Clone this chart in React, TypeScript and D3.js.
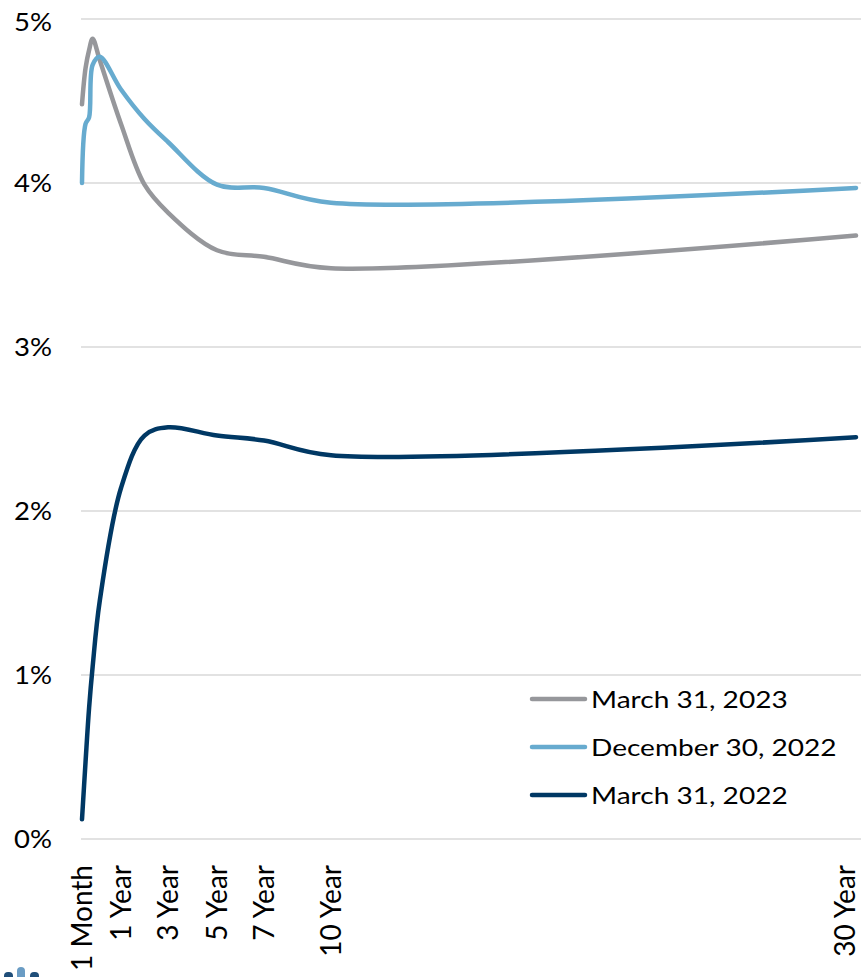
import React from "react";
import * as d3 from "d3";

const maturities = [1 / 12, 2 / 12, 3 / 12, 4 / 12, 6 / 12, 1, 2, 3, 5, 7, 10, 30];
const tickYears = [1 / 12, 1, 3, 5, 7, 10, 30];
const tickLabels = ["1 Month", "1 Year", "3 Year", "5 Year", "7 Year", "10 Year", "30 Year"];
const yTicks = [0, 1, 2, 3, 4, 5];

const mar2023 = [4.48, 4.7, 4.81, 4.88, 4.75, 4.36, 3.99, 3.82, 3.59, 3.55, 3.48, 3.68];
const dec2022 = [4.0, 4.36, 4.4, 4.72, 4.77, 4.57, 4.39, 4.25, 3.99, 3.97, 3.88, 3.97];
const mar2022 = [0.12, 0.47, 0.8, 1.05, 1.45, 2.14, 2.46, 2.51, 2.46, 2.43, 2.34, 2.45];

const seriesNames = ["March 31, 2023", "December 30, 2022", "March 31, 2022"];
const seriesColors = ["#96979b", "#67abcf", "#003864"];
const seriesValues = [mar2023, dec2022, mar2022];

const FONT = "Lato, 'Open Sans', sans-serif";

export default function App() {
  const W = 861;
  const H = 977;
  // piecewise-linear position scale (years -> px)
  const x = d3
    .scaleLinear()
    .domain(tickYears)
    .range([82, 121, 168, 217, 264, 331, 856]);
  const y = d3.scaleLinear().domain([0, 5]).range([839, 19]);

  const line = d3
    .line<number>()
    .x((_, i) => x(maturities[i]))
    .y((d) => y(d))
    .curve(d3.curveCatmullRom.alpha(0.5));

  const legendX = 532;
  const legendY0 = 699;
  const legendDy = 48;

  return (
    <svg
      width={W}
      height={H}
      style={{ position: "absolute", left: 0, top: 0, display: "block", background: "#fff" }}
      fontFamily={FONT}
    >
      <rect x={0} y={0} width={W} height={H} fill="#fff" />
      {yTicks.map((t) => (
        <g key={t}>
          <line x1={81} x2={W} y1={y(t)} y2={y(t)} stroke="#d9d9d9" strokeWidth={1.5} />
          <text
            transform={`translate(52,${Math.max(y(t), 22)}) scale(1.1,1)`}
            textAnchor="end"
            dy="0.36em"
            fontSize={25}
            fill="#000"
          >
            {t}%
          </text>
        </g>
      ))}
      {tickYears.map((t, i) => (
        <text
          key={tickLabels[i]}
          transform={`translate(${Math.min(x(t), 845)},865) rotate(-90)`}
          textAnchor="end"
          dy="0.36em"
          fontSize={28}
          fill="#000"
        >
          {tickLabels[i]}
        </text>
      ))}
      {seriesValues.map((vals, i) => (
        <path
          key={seriesNames[i]}
          d={line(vals) || ""}
          fill="none"
          stroke={seriesColors[i]}
          strokeWidth={4.5}
          strokeLinecap="round"
          strokeLinejoin="round"
        />
      ))}
      {seriesNames.map((n, i) => (
        <g key={n}>
          <line
            x1={legendX}
            x2={legendX + 53}
            y1={legendY0 + i * legendDy}
            y2={legendY0 + i * legendDy}
            stroke={seriesColors[i]}
            strokeWidth={4.5}
            strokeLinecap="round"
          />
          <text
            transform={`translate(591,${legendY0 + i * legendDy + 8.5}) scale(1.17,1)`}
            fontSize={24}
            fill="#000"
          >
            {n}
          </text>
        </g>
      ))}
      <g>
        <rect x={4} y={972} width={9} height={12} rx={4} fill="#1f4e79" />
        <rect x={17} y={967} width={8} height={17} rx={4} fill="#6a9cc4" />
        <rect x={30} y={972} width={9} height={12} rx={4} fill="#1f4e79" />
      </g>
    </svg>
  );
}
